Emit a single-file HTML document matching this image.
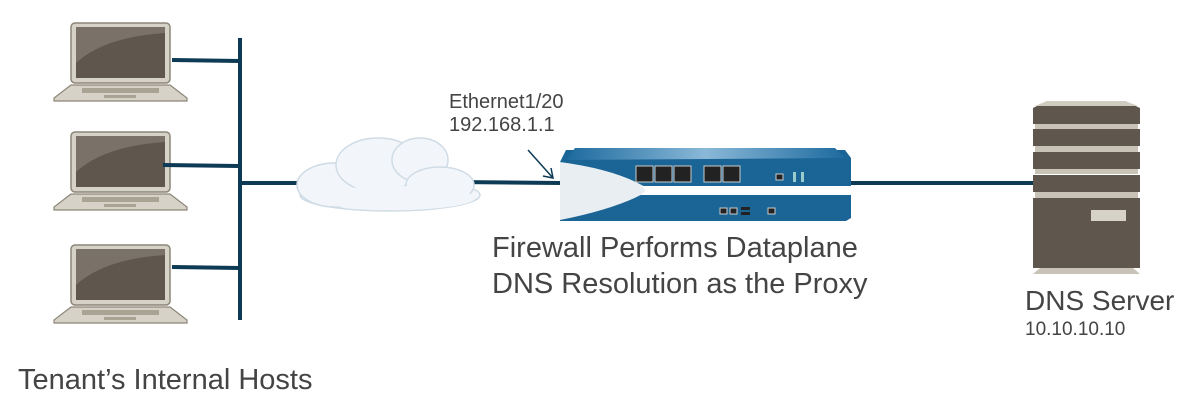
<!DOCTYPE html>
<html><head><meta charset="utf-8"><style>
body{margin:0;background:#fff;width:1197px;height:415px;overflow:hidden;position:relative;font-family:"Liberation Sans",sans-serif;color:#444}
.t{position:absolute;white-space:nowrap;line-height:1.15}
</style></head><body>
<svg width="1197" height="415" style="position:absolute;left:0;top:0">
<defs>
<g id="lap">
<rect x="17" y="0" width="99" height="60" rx="4" fill="#d6d2c8" stroke="#8c8678" stroke-width="1.5"/>
<rect x="22" y="4" width="89" height="51" fill="#5f574d"/>
<path d="M22 40 Q50 14 111 10 L111 4 L22 4Z" fill="#7a7268"/>
<path d="M17 62 L116 62 L133 75 L133 78 L0 78 L0 75Z" fill="#d6d2c8" stroke="#8c8678" stroke-width="1.2"/>
<rect x="28" y="65" width="77" height="5" fill="#a9a394"/>
<rect x="50" y="72" width="32" height="3" fill="#a9a394"/>
</g>
<linearGradient id="fw" x1="0" x2="1"><stop offset="0" stop-color="#1d6a9e"/><stop offset=".5" stop-color="#8ab8d8"/><stop offset="1" stop-color="#1d6a9e"/></linearGradient>
</defs>
<use href="#lap" x="54" y="23"/>
<use href="#lap" x="54" y="132"/>
<use href="#lap" x="54" y="245"/>
<g stroke="#0d3a55" stroke-width="4" fill="none">
<line x1="240" y1="38" x2="240" y2="320"/>
<line x1="172" y1="60" x2="240" y2="61"/>
<line x1="163" y1="165" x2="238" y2="166"/>
<line x1="172" y1="267" x2="240" y2="268"/>
<line x1="240" y1="183" x2="310" y2="183"/>
<line x1="455" y1="182" x2="560" y2="183"/>
<line x1="846" y1="183" x2="1033" y2="183"/>
</g>
<g fill="#f2f6fa" stroke="#cfdbe5" stroke-width="1.5">
<ellipse cx="390" cy="195" rx="90" ry="16"/>
<ellipse cx="335" cy="185" rx="38" ry="22"/>
<ellipse cx="378" cy="165" rx="42" ry="27"/>
<ellipse cx="420" cy="160" rx="28" ry="22"/>
<ellipse cx="440" cy="185" rx="34" ry="18"/>
<ellipse cx="395" cy="198" rx="80" ry="12" stroke="none"/>
</g>
<g stroke="#0d3a55" stroke-width="1.5" fill="none"><line x1="528" y1="150" x2="553" y2="178"/><path d="M543 176 L553 178 L551 168"/></g>
<path d="M566 150 L845 150 L851 158 L851 218 L846 221 L560 221 L560 162Z" fill="#1a6496"/>
<path d="M575 148 L835 148 L845 158 L566 160Z" fill="url(#fw)"/>
<path d="M560 162 Q620 170 650 190 Q620 208 560 220Z" fill="#e9eef2"/>
<path d="M640 186 L851 186 L851 195 L640 195 Q650 190 640 186Z" fill="#fff"/>
<g fill="#222" stroke="#ccc" stroke-width="1"><rect x="636" y="166" width="17" height="16"/><rect x="655" y="166" width="17" height="16"/><rect x="674" y="166" width="17" height="16"/><rect x="704" y="166" width="17" height="16"/><rect x="723" y="166" width="17" height="16"/><rect x="776" y="174" width="7" height="6"/><rect x="720" y="208" width="7" height="6"/><rect x="730" y="208" width="7" height="6"/><rect x="768" y="208" width="7" height="6"/></g>
<rect x="741" y="207" width="9" height="3" fill="#222"/><rect x="741" y="212" width="9" height="3" fill="#222"/>
<rect x="793" y="172" width="3" height="10" fill="#9cc"/><rect x="801" y="172" width="3" height="10" fill="#9cc"/>
<g fill="#5f574d">
<path d="M1047 101 L1125 101 L1140 108 L1140 124 L1033 124 L1033 108Z"/>
<path d="M1047 101 L1125 101 L1138 106 L1035 106Z" fill="#d0ccc2"/>
<rect x="1035" y="124" width="103" height="50" fill="#c8c3b6"/>
<rect x="1033" y="129" width="107" height="17"/>
<rect x="1033" y="152" width="107" height="17"/>
<rect x="1033" y="175" width="107" height="17"/>
<rect x="1035" y="192" width="103" height="6" fill="#c8c3b6"/>
<rect x="1033" y="198" width="107" height="70"/>
<rect x="1091" y="210" width="35" height="11" fill="#d6d2c8"/>
<path d="M1040 268 L1133 268 L1140 274 L1033 274Z" fill="#c8c3b6"/>
</g>
</svg>
<div class="t" style="left:449px;top:91px;font-size:20px">Ethernet1/20</div>
<div class="t" style="left:449px;top:114px;font-size:20px">192.168.1.1</div>
<div class="t" style="left:492px;top:232px;font-size:29px">Firewall Performs Dataplane</div>
<div class="t" style="left:492px;top:268px;font-size:29px">DNS Resolution as the Proxy</div>
<div class="t" style="left:1025px;top:285px;font-size:28px">DNS Server</div>
<div class="t" style="left:1025px;top:319px;font-size:19px">10.10.10.10</div>
<div class="t" style="left:18px;top:364px;font-size:29px">Tenant’s Internal Hosts</div>
</body></html>
